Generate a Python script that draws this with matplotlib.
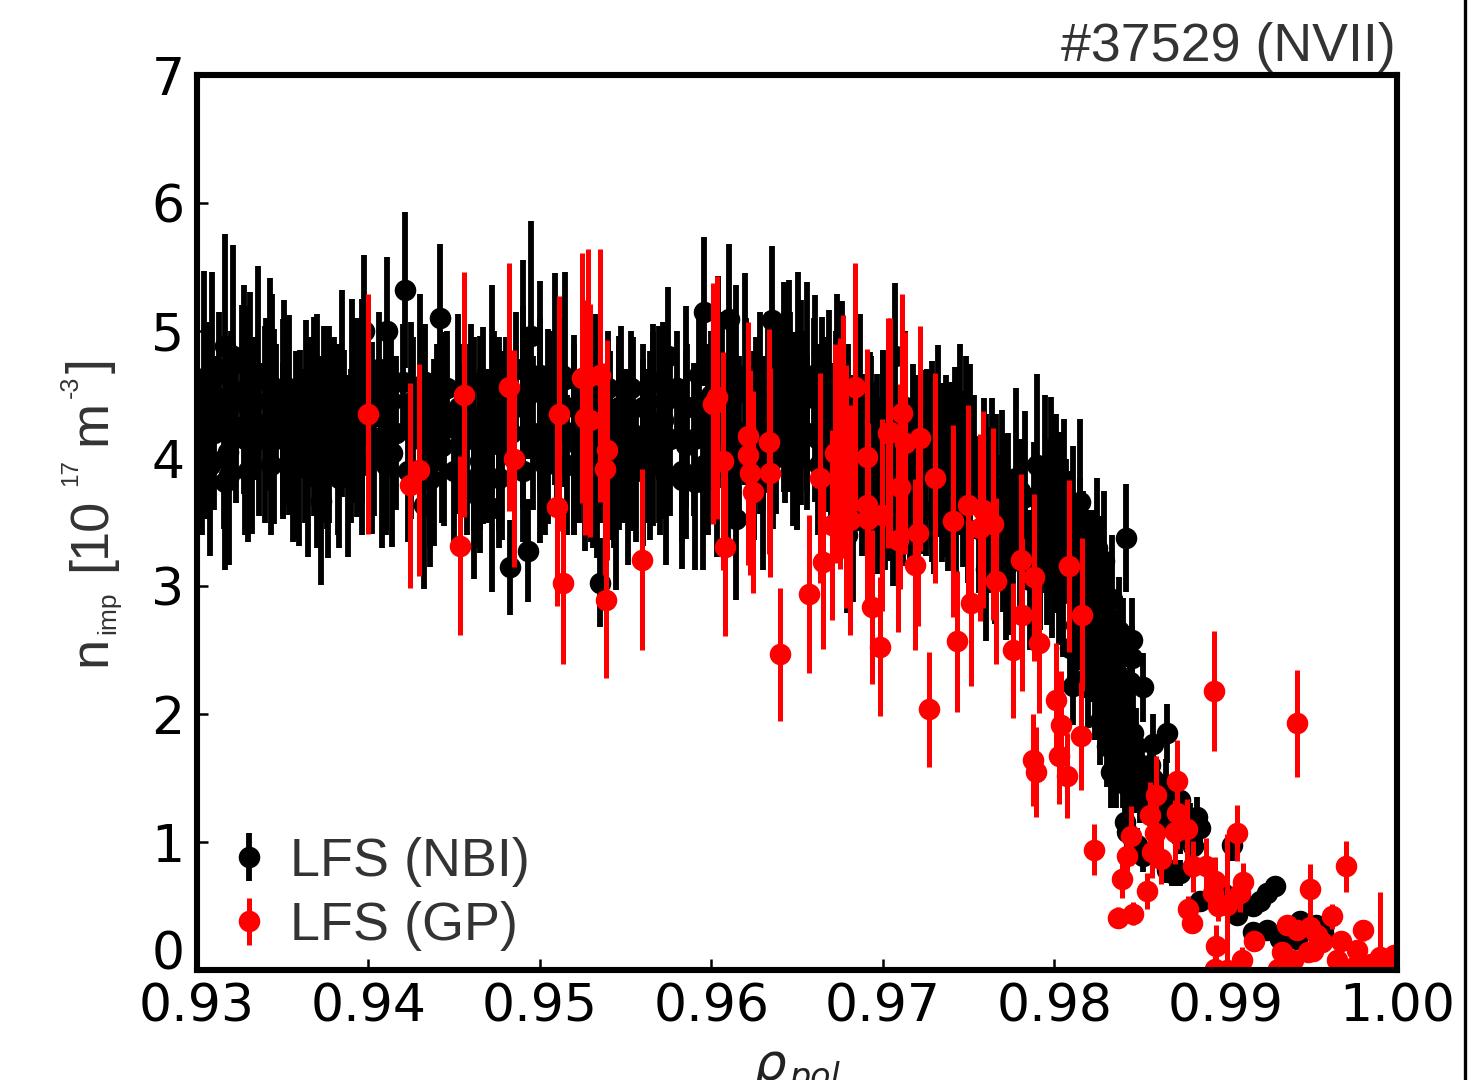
import matplotlib
matplotlib.use("Agg")
import matplotlib.pyplot as plt
from matplotlib.legend_handler import HandlerErrorbar
from matplotlib.lines import Line2D

# LFS (NBI), values
nbi_rho = [
    .9304, .93087, .93161, .93208, .93272, .93311, .93356, .93424, .935, .93535, .93636, .9368,
    .93739, .93768, .93846, .93904, .93972, .94108, .94215, .94299, .94415, .94575, .94614, .94668,
    .9472, .9476, .949, .9495, .95002, .9509, .95148, .952,
    .95321, .95409, .95473, .95545, .95658, .95696, .95745, .95852, .95957, .9604, .96105, .96147,
    .96196, .96283, .96357, .96423, .96453, .96507, .9656, .96604, .96643, .96686, .96736, .96764,
    .96867, .96925, .96964, .97071, .97129, .97174, .97236, .97289, .97324, .97368, .9745, .97485,
    .97512, .9759, .97638, .97693,
    .93078, .93161, .93189, .93282, .93321, .93395, .93437, .93505, .93593, .93647, .93725, .93764,
    .93881, .93933, .94021, .94079, .94137, .94322, .94361, .94439, .94614, .94652, .9472, .94827,
    .9493, .95002, .95197, .95265, .95333, .95311, .9535, .95444, .95512, .95642, .95735, .95827,
    .95904, .95953, .96031, .96142, .96303, .96478, .96521, .96793, .96828, .96964, .97013, .97061,
    .97285, .97343, .97421, .9747, .97601, .97654, .97722,
    .9772, .9775, .9778, .978, .9783, .9786, .9788, .979, .9792, .97946, .9796, .9798,
    .98, .98034, .9803, .9804, .9806, .98092, .981, .98111, .9812, .9813, .9815, .9815,
    .9816, .9818, .9819, .982, .9822, .9823, .9824, .9825, .9826, .9827, .9828, .9829,
    .983, .9831, .9832, .9833, .9834, .9835, .9836, .9837, .9838, .9839, .984, .9841,
    .9842, .9843, .9844, .9845, .9846, .9847, .9848, .98417, .98403, .98455, .98457, .98516,
    .98578, .9866, .98831, .9885, .99035, .9929, .99239, .992, .99161, .99064, .98986, .9885,
    .98714, .98656, .98733, .99161, .99239, .99317, .99414, .99569, .9953, .99433,
    .98413, .98423, .98519, .98481, .98559, .98656, .98685, .98733, .98792, .985, .98656, .98578,
    .98733, .98811,
    .9306, .9318, .9330, .9345, .9358, .9370, .9382, .9396, .9410, .9425, .9438, .9452,
    .9465, .9478, .9490, .9505, .9520, .9532, .9546, .9560, .9572, .9585, .9598, .9612,
    .9625, .9638, .9650, .9662, .9675, .9688, .9700, .9712, .9725, .9738, .9750, .9762,
    .9303, .9306, .9310, .9313, .9316, .9320, .9323, .9326, .9330, .9333, .9336, .9340,
    .9343, .9346, .9350, .9353, .9356, .9360, .9363, .9366, .9370, .9373, .9376, .9380,
    .9383, .9386, .9390, .9393, .9396, .9400, .9403, .9406, .9410, .9413, .9416, .9420,
    .9423, .9426, .9430, .9433, .9436, .9440, .9443, .9446, .9450, .9453, .9456, .9460,
    .9463, .9466, .9470, .9473, .9476, .9480, .9483, .9486, .9490, .9493, .9496, .9500,
    .9503, .9506, .9510, .9513, .9516, .9520, .9523, .9526, .9530, .9533, .9536, .9540,
    .9543, .9546, .9550, .9553, .9556, .9560, .9563, .9566, .9570, .9573, .9576, .9580,
    .9583, .9586, .9590, .9593, .9596, .9600, .9603, .9606, .9610, .9613, .9616, .9620,
    .9623, .9626, .9630, .9633, .9636, .9640, .9643, .9646, .9650, .9653, .9656, .9660,
    .9663, .9666, .9670, .9673, .9676, .9680, .9683, .9686, .9690, .9693, .9696, .9700,
    .9703, .9706, .9710, .9713, .9716, .9720, .9723, .9726, .9730, .9733, .9736, .9740,
    .9743, .9746, .9750, .9753, .9756, .9760, .9763, .9766, .9770, .9773, .9776, .9780,
    .9791, .9795, .9799, .9801, .9805, .9807, .9809, .9811, .9814, .9817, .9821, .9822,
    .9824, .9826, .9827, .9829, .983, .9832, .9833, .9835, .9836, .9837, .9839, .984,
    .9842, .9843, .9845, .9847, .985, .9853, .9856, .9859, .9862, .9865, .987, .9874, .9878,
]
nbi_n = [
    4.63, 4.62, 4.88, 4.80, 4.54, 4.49, 4.67, 4.58, 4.31, 4.34, 4.30, 4.33,
    4.27, 4.27, 4.51, 4.45, 5.00, 5.00, 5.32, 4.48, 5.10, 4.15, 4.19, 4.26,
    4.54, 4.19, 4.70, 4.96, 4.57, 4.62, 4.62, 4.15,
    4.33, 4.10, 4.27, 4.19, 4.23, 4.27, 4.80, 4.11, 5.15, 4.60, 5.09, 4.54,
    4.62, 4.36, 5.08, 4.56, 4.57, 4.62, 4.56, 4.47, 4.33, 4.37, 4.48, 4.43,
    4.35, 4.09, 3.79, 4.80, 4.24, 4.01, 3.97, 4.03, 4.14, 3.94, 4.15, 4.07,
    4.01, 3.79, 3.79, 3.71,
    3.95, 3.82, 3.87, 4.15, 4.16, 4.27, 4.48, 4.44, 4.05, 3.94, 3.67, 3.93,
    3.94, 4.32, 4.16, 4.03, 4.04, 3.64, 3.84, 4.23, 3.73, 3.98, 3.61, 3.15,
    3.28, 4.07, 4.21, 4.00, 3.93, 4.03, 3.03, 3.62, 3.87, 4.10, 3.87, 3.83,
    3.82, 3.82, 3.94, 3.53, 3.82, 4.23, 4.44, 3.40, 3.51, 3.95, 3.82, 3.66,
    3.89, 3.89, 4.00, 3.84, 3.14, 3.31, 3.15,
    3.55, 3.20, 3.85, 3.40, 3.70, 3.05, 3.50, 3.95, 3.25, 3.82, 3.30, 3.80,
    3.40, 3.57, 3.10, 3.40, 3.65, 2.52, 3.30, 2.22, 3.00, 2.70, 3.35, 3.66,
    2.90, 2.60, 3.10, 2.30, 3.05, 2.70, 2.20, 3.30, 2.90, 1.95, 2.50, 3.20,
    2.75, 1.75, 2.20, 1.55, 2.90, 1.95, 1.55, 2.30, 2.65, 1.75, 1.55, 2.00,
    1.45, 1.80, 2.25, 1.60, 1.85, 1.50, 1.75, 3.38, 2.58, 2.58, 2.44, 2.21,
    1.77, 1.85, 1.20, 1.11, 0.98, 0.66, 0.60, 0.54, 0.50, 0.43, 0.60, 0.54,
    0.76, 0.78, 0.76, 0.30, 0.31, 0.24, 0.24, 0.30, 0.35, 0.38,
    1.16, 1.08, 0.89, 0.98, 1.30, 1.22, 0.76, 1.33, 1.16, 1.54, 1.33, 1.49,
    1.05, 0.97,
    4.30, 4.05, 4.40, 4.25, 4.10, 4.35, 4.15, 4.45, 4.20, 4.30, 4.05, 4.35,
    4.20, 4.10, 4.40, 4.25, 4.15, 4.35, 4.20, 4.05, 4.30, 4.40, 4.15, 4.25,
    4.10, 4.35, 4.20, 4.15, 4.05, 3.95, 4.10, 3.85, 3.95, 3.80, 3.70, 3.60,
    3.95, 4.55, 4.20, 4.70, 4.00, 4.50, 4.25, 4.75, 3.90, 4.45, 4.15, 4.65,
    3.95, 4.40, 4.15, 4.55, 3.90, 4.35, 4.10, 4.50, 3.85, 4.30, 4.05, 4.50,
    3.85, 4.35, 4.10, 4.55, 3.95, 4.40, 4.15, 4.70, 3.95, 4.45, 4.20, 4.60,
    3.90, 4.45, 4.15, 4.60, 3.85, 4.40, 4.10, 4.55, 3.90, 4.40, 4.15, 4.60,
    3.85, 4.35, 4.10, 4.55, 3.85, 4.45, 4.20, 4.70, 3.90, 4.50, 4.20, 4.65,
    3.95, 4.50, 4.20, 4.65, 3.95, 4.40, 4.10, 4.60, 3.90, 4.35, 4.10, 4.55,
    3.85, 4.40, 4.10, 4.55, 3.90, 4.40, 4.10, 4.60, 3.95, 4.45, 4.15, 4.55,
    3.90, 4.40, 4.15, 4.65, 3.95, 4.50, 4.20, 4.70, 3.90, 4.50, 4.20, 4.65,
    3.95, 4.45, 4.20, 4.70, 4.00, 4.55, 4.25, 4.70, 4.00, 4.50, 4.20, 4.65,
    3.95, 4.45, 4.15, 4.55, 3.90, 4.40, 4.05, 4.50, 3.80, 4.30, 4.00, 4.40,
    3.70, 4.30, 3.95, 4.40, 3.70, 4.20, 3.90, 4.30, 3.60, 4.10, 3.80, 4.20,
    3.50, 4.00, 3.70, 4.10, 3.45, 3.90, 3.60, 3.95, 3.30, 3.75, 3.40, 3.75,
    3.30, 3.55, 3.10, 3.75, 2.95, 3.45, 3.00, 3.55, 2.75, 3.25, 2.75, 2.45,
    2.95, 2.35, 3.10, 2.10, 2.45, 2.75, 1.85, 2.40, 1.75, 2.05, 2.10, 1.75,
    2.00, 1.60, 1.45, 1.65, 1.35, 1.45, 1.60, 1.40, 1.20, 1.45, 1.30, 1.15, 1.05,
]
nbi_err = [
    .84, .84, .88, .87, .82, .81, .84, .83, .78, .78, .78, .78,
    .77, .77, .81, .80, .59, .58, .61, .81, .58, .75, .76, .77,
    .82, .76, .85, .90, .82, .83, .84, .75,
    .78, .74, .77, .76, .76, .77, .54, .74, .58, .83, .59, .82,
    .83, .79, .58, .82, .83, .84, .82, .81, .78, .79, .81, .80,
    .78, .74, .69, .57, .76, .73, .72, .73, .75, .71, .75, .73,
    .73, .68, .68, .67,
    .71, .69, .70, .75, .75, .77, .81, .80, .73, .71, .66, .71,
    .71, .78, .75, .73, .73, .66, .69, .76, .67, .72, .65, .37,
    .40, .73, .76, .72, .71, .73, .35, .65, .70, .74, .70, .69,
    .69, .69, .71, .64, .69, .76, .80, .61, .63, .71, .69, .66,
    .70, .70, .72, .69, .57, .60, .57,
    .64, .58, .70, .62, .67, .55, .63, .71, .59, .68, .60, .68,
    .61, .64, .56, .62, .66, .30, .60, .30, .54, .49, .50, .65,
    .50, .47, .50, .41, .55, .49, .40, .55, .52, .35, .45, .55,
    .50, .32, .40, .28, .50, .35, .28, .42, .42, .32, .28, .36,
    .26, .32, .30, .29, .33, .27, .30, .42, .33, .33, .25, .27,
    .23, .23, .15, .14, .13, .07, .07, .06, .06, .05, .07, .06,
    .10, .10, .10, .04, .04, .03, .03, .04, .04, .04,
    .16, .15, .12, .13, .17, .16, .10, .17, .15, .20, .17, .20,
    .14, .13,
    .77, .73, .79, .76, .74, .78, .75, .80, .76, .77, .73, .78,
    .76, .74, .79, .76, .75, .78, .76, .73, .77, .79, .75, .76,
    .74, .78, .76, .75, .73, .71, .74, .69, .71, .68, .67, .65,
    .55, .50, .60, .45, .55, .50, .60, .45, .55, .50, .60, .45,
    .55, .50, .60, .45, .55, .50, .60, .45, .55, .50, .60, .45,
    .55, .50, .60, .45, .55, .50, .60, .45, .55, .50, .60, .45,
    .55, .50, .60, .45, .55, .50, .60, .45, .55, .50, .60, .45,
    .55, .50, .60, .45, .55, .50, .60, .45, .55, .50, .60, .45,
    .55, .50, .60, .45, .55, .50, .60, .45, .55, .50, .60, .45,
    .55, .50, .60, .45, .55, .50, .60, .45, .55, .50, .60, .45,
    .55, .50, .60, .45, .55, .50, .60, .45, .55, .50, .60, .45,
    .55, .50, .60, .45, .55, .50, .60, .45, .55, .50, .60, .45,
    .55, .50, .60, .45, .55, .50, .60, .45, .55, .50, .60, .45,
    .50, .45, .50, .40, .50, .45, .50, .40, .50, .45, .50, .40,
    .50, .45, .50, .40, .50, .45, .50, .40, .50, .45, .50, .40,
    .55, .60, .50, .60, .50, .55, .45, .55, .40, .50, .40, .35,
    .45, .35, .45, .30, .35, .40, .30, .35, .30, .30, .30, .25,
    .30, .25, .20, .20, .20, .20, .20, .20, .17, .20, .17, .15, .15,
]

# LFS (GP)
gp_rho = [
    .94, .94242, .94295, .94557, .94534, .9482, .94849, .951, .9511, .95135, .95246, .95263,
    .95281, .95293, .95351, .95386, .9538, .95392, .95596, .9601, .96033, .96068, .9608, .96214,
    .96214, .96243, .96337, .96343, .96226, .96401, .9657, .96634, .96652, .96722, .96704, .9675,
    .96768, .96786, .96809, .96838, .96908, .96914, .96908, .96937, .96984, .96996, .97031, .97042,
    .97112, .97101, .97089, .9713, .97217, .97206, .97188, .9727, .97305, .9741, .97433, .97497,
    .97515, .97585, .97567, .97643, .97661,
    .97807, .97812, .97762, .97882, .97912, .98087, .98162, .98011, .9804, .98028, .97877, .97894,
    .98075, .98157,
    .98718, .98592, .98718, .98559, .98446, .98588, .98704, .98776, .98426, .98568, .98623, .98234,
    .98393, .98543, .98374, .98461, .98811, .98885, .98938, .98928, .98957, .99064, .98932, .99414,
    .99099, .99083, .99006, .98782, .98805, .98947, .98938, .99006, .99097, .99165, .99495, .997,
    .99361, .99414, .99492, .99531, .9956, .99482, .99327, .99394, .99307, .99622, .99676, .99803,
    .99764, .999, .9965, .9975, .9985, .999, .9995, .9998, .99985, .9951, .9936,
]
gp_n = [
    4.35, 3.79, 3.91, 4.50, 3.32, 4.56, 4.00, 3.62, 4.35, 3.03, 4.63, 4.32,
    4.64, 4.30, 4.65, 2.89, 3.92, 4.07, 3.21, 4.43, 4.48, 3.98, 3.31, 4.18,
    4.03, 3.74, 4.13, 3.89, 3.89, 2.47, 2.94, 3.85, 3.19, 4.04, 3.48, 4.04,
    4.17, 3.78, 3.52, 4.56, 4.01, 3.53, 3.64, 2.84, 2.53, 3.56, 4.20, 4.21,
    4.36, 3.78, 3.36, 4.12, 4.16, 3.42, 3.17, 2.04, 3.85, 3.51, 2.57, 3.64,
    2.87, 3.60, 3.46, 3.49, 3.04,
    3.21, 2.78, 2.50, 3.07, 2.56, 3.16, 2.78, 2.11, 1.92, 1.67, 1.64, 1.55,
    1.52, 1.83,
    1.48, 1.37, 1.23, 1.21, 1.05, 1.07, 1.08, 1.10, 0.89, 0.92, 0.87, 0.94,
    0.71, 0.62, 0.41, 0.44, 0.81, 0.81, 0.70, 0.60, 0.50, 1.07, 2.18, 1.93,
    0.69, 0.60, 0.51, 0.48, 0.37, 0.19, 0.01, 0.00, 0.08, 0.23, 0.63, 0.81,
    0.35, 0.31, 0.34, 0.27, 0.22, 0.14, 0.14, 0.08, 0.01, 0.42, 0.23, 0.31,
    0.16, 0.03, 0.08, 0.02, 0.05, 0.10, 0.03, 0.12, 0.02, 0.15, 0.05,
]
gp_err = [
    .94, .80, .83, .96, .70, .97, .85, .77, .92, .64, .98, .92,
    1.00, .91, .99, .61, .83, .86, .71, .94, .95, .85, .70, .89,
    .86, .79, .88, .82, .80, .52, .62, .82, .68, .86, .74, .90,
    .95, .95, .90, .97, .85, .75, .77, .60, .54, .75, .90, .89,
    .93, .80, .72, .87, .88, .73, .67, .45, .82, .75, .55, .78,
    .65, .77, .73, .75, .65,
    .67, .60, .53, .65, .55, .67, .60, .45, .42, .37, .36, .35,
    .33, .42,
    .32, .30, .28, .26, .23, .25, .25, .24, .20, .20, .20, .20,
    .15, .14, .08, .09, .20, .22, .18, .15, .12, .22, .47, .42,
    .15, .15, .55, .10, .08, .16, .10, .30, .10, .05, .20, .20,
    .08, .06, .10, .05, .05, .05, .06, .05, .05, .10, .06, .08,
    .05, .58, .05, .04, .05, .05, .04, .05, .04, .05, .05,
]

rho_ticks = [0.93, 0.94, 0.95, 0.96, 0.97, 0.98, 0.99, 1.00]
n_ticks = [0, 1, 2, 3, 4, 5, 6, 7]

plt.rcParams["font.family"] = "Liberation Sans"

fig = plt.figure(figsize=(14.81, 10.8), dpi=100)
ax = fig.add_axes([197 / 1481, 1 - 970 / 1080, 1200 / 1481, 895 / 1080])

ax.errorbar(nbi_rho, nbi_n, yerr=nbi_err, fmt="o", color="black", ms=14.5, elinewidth=4.2, capsize=0, zorder=2, label="LFS (NBI)")
ax.errorbar(gp_rho, gp_n, yerr=gp_err, fmt="o", color="red", ms=14.5, elinewidth=3.6, capsize=0, zorder=3, label="LFS (GP)")

ax.set_xlim(0.93, 1.0)
ax.set_ylim(0, 7)
ax.set_xticks(rho_ticks)
ax.set_xticklabels(["%.2f" % t for t in rho_ticks], family="DejaVu Sans", fontsize=37.5)
ax.set_yticks(n_ticks)
ax.set_yticklabels([str(t) for t in n_ticks], family="DejaVu Sans", fontsize=37.5)
ax.get_yticklabels()[0].set_va("baseline")
ax.tick_params(direction="in", length=8, width=1.8, pad=9, top=False, right=False)
for side in ax.spines.values():
    side.set_linewidth(4.4)
    side.set_zorder(10)

ax.legend(
    loc="lower left",
    bbox_to_anchor=(6 / 1200, -3 / 895),
    frameon=False,
    fontsize=38.9,
    labelcolor="#333333",
    numpoints=1,
    handlelength=0.9,
    handletextpad=0.31,
    labelspacing=0.27,
    borderaxespad=0.2,
    borderpad=0.2,
    handler_map={type(ax.containers[0]): HandlerErrorbar(yerr_size=0.44)},
)

fig.text(1396 / 1481, 1 - 60.5 / 1080, "#37529 (NVII)", ha="right", va="baseline", fontsize=38.7, color="#333333")

# y label, put together so that sub/superscripts keep their small size
ylabel_parts = [
    ("n", 105, 666, 39), ("imp", 115, 634, 19), ("[", 105, 571, 39), ("10", 105, 557, 39),
    ("17", 77, 486, 17.5), ("m", 105, 445, 39), ("-3", 78, 398, 18), ("]", 105, 373, 39),
]
for part, px, py, size in ylabel_parts:
    fig.text(px / 1481, 1 - py / 1080, part, rotation=90, rotation_mode="anchor",
             ha="left", va="baseline", fontsize=size, color="#333333")

fig.text(753 / 1481, 1 - 1080 / 1080, "\u03c1", family="DejaVu Sans", style="italic", ha="left", va="baseline", fontsize=37, color="#222222")
fig.text(789 / 1481, 1 - 1087 / 1080, "pol", family="DejaVu Sans", style="italic", ha="left", va="baseline", fontsize=24, color="#222222")

fig.add_artist(Line2D([1464.5 / 1481] * 2, [0, 1], color="black", lw=2.4, transform=fig.transFigure))

fig.savefig("out.png", dpi=100)
